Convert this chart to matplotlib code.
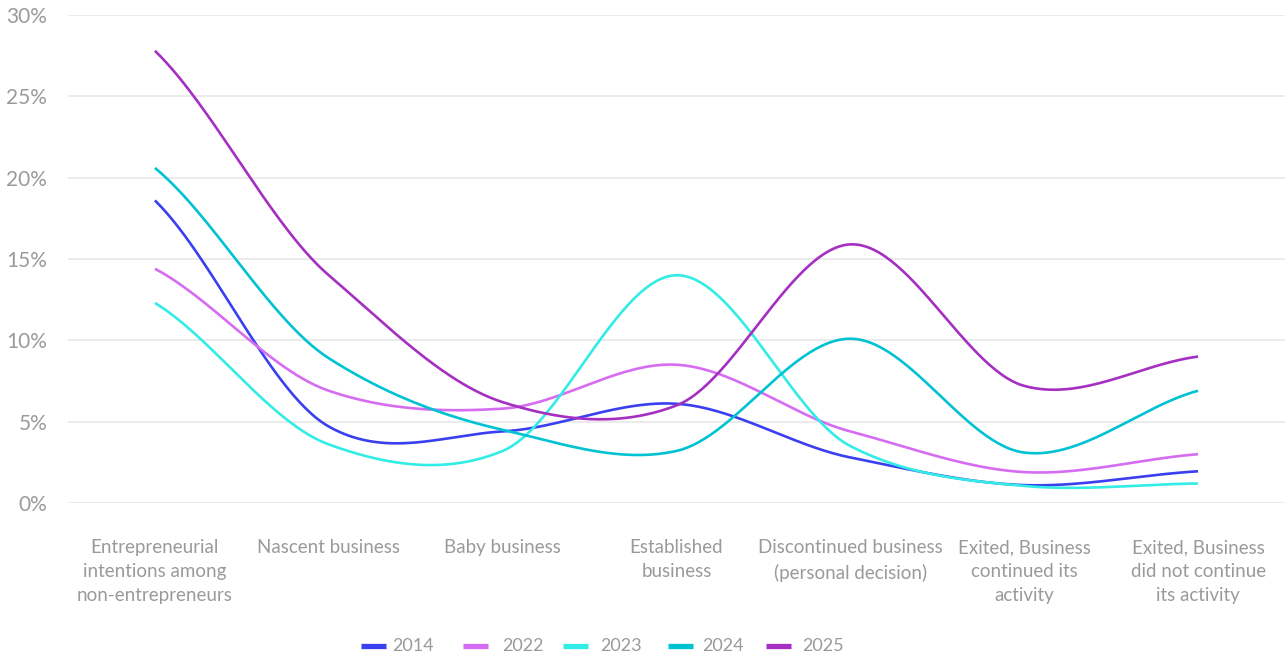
import numpy as np
import matplotlib
matplotlib.use("Agg")
import matplotlib.pyplot as plt
from matplotlib.lines import Line2D

categories = [
    "Entrepreneurial\nintentions among\nnon-entrepreneurs",
    "Nascent business",
    "Baby business",
    "Established\nbusiness",
    "Discontinued business\n(personal decision)",
    "Exited, Business\ncontinued its\nactivity",
    "Exited, Business\ndid not continue\nits activity",
]

years = ["2014", "2022", "2023", "2024", "2025"]
s2014 = [18.6, 4.7, 4.4, 6.1, 2.8, 1.1, 1.95]
s2022 = [14.4, 6.9, 5.8, 8.5, 4.4, 1.9, 3.0]
s2023 = [12.3, 3.6, 3.2, 14.0, 3.5, 1.05, 1.2]
s2024 = [20.6, 8.9, 4.5, 3.2, 10.1, 3.1, 6.9]
s2025 = [27.8, 14.0, 6.2, 6.0, 15.9, 7.2, 9.0]
series = [s2014, s2022, s2023, s2024, s2025]
colors = ["#3a40f0", "#d66cf1", "#33ece6", "#00c2d3", "#a52fc0"]

y_ticks = [0, 5, 10, 15, 20, 25, 30]
y_tick_labels = ["0%", "5%", "10%", "15%", "20%", "25%", "30%"]


def smooth(values, tension=0.85, end_scale=0.75, n=60):
    """Cardinal (Hermite) spline through the points at x = 0..N-1."""
    y = np.asarray(values, dtype=float)
    m = np.empty_like(y)
    m[1:-1] = (y[2:] - y[:-2]) / 2.0 * tension
    m[0] = (y[1] - y[0]) * end_scale
    m[-1] = (y[-1] - y[-2]) * end_scale
    xs, ys = [], []
    for i in range(len(y) - 1):
        t = np.linspace(0, 1, n, endpoint=(i == len(y) - 2))
        h00 = 2 * t**3 - 3 * t**2 + 1
        h10 = t**3 - 2 * t**2 + t
        h01 = -2 * t**3 + 3 * t**2
        h11 = t**3 - t**2
        xs.append(i + t)
        ys.append(h00 * y[i] + h10 * m[i] + h01 * y[i + 1] + h11 * m[i + 1])
    return np.concatenate(xs), np.concatenate(ys)


plt.rcParams["font.family"] = ["Lato", "DejaVu Sans"]
text_color = "#9a9a9a"
W, H = 1285, 655

fig = plt.figure(figsize=(W / 100, H / 100), dpi=100)
ax = fig.add_axes([68 / W, 1 - 503 / H, 1 - 68 / W, (503 - 15) / H])

for vals, col in zip(series, colors):
    xs, ys = smooth(vals)
    ax.plot(xs, ys, color=col, lw=1.9, solid_capstyle="butt", clip_on=False, zorder=3)

ax.set_xlim(-0.5, len(categories) - 0.5)
ax.set_ylim(0, 30)
ax.set_yticks(y_ticks)
ax.set_yticklabels(y_tick_labels)
ax.set_xticks(range(len(categories)))
ax.set_xticklabels(categories, linespacing=1.5)
ax.grid(axis="y", color="#e8e8e8", lw=1.2)
ax.set_axisbelow(True)
for sp in ax.spines.values():
    sp.set_visible(False)
ax.tick_params(axis="y", length=0, pad=15, labelsize=15, labelcolor=text_color)
ax.tick_params(axis="x", length=0, pad=26, labelsize=13.5, labelcolor=text_color)
for lab in ax.get_xticklabels():
    lab.set_verticalalignment("top")
    lab.set_horizontalalignment("center")

# legend laid out along the bottom edge
legend_y = 1 - 646 / H
swatch_x = [361, 463, 563, 668, 766]
label_x = [392, 502, 600, 702, 802]
for sx, lx, col, yr in zip(swatch_x, label_x, colors, years):
    fig.add_artist(Line2D([sx / W, (sx + 25) / W], [legend_y, legend_y],
                          transform=fig.transFigure, color=col, lw=3.8,
                          solid_capstyle="butt"))
    fig.text(lx / W, legend_y, yr, ha="left", va="center", fontsize=13,
             color=text_color)

fig.savefig("out.png", dpi=100, facecolor="white")
